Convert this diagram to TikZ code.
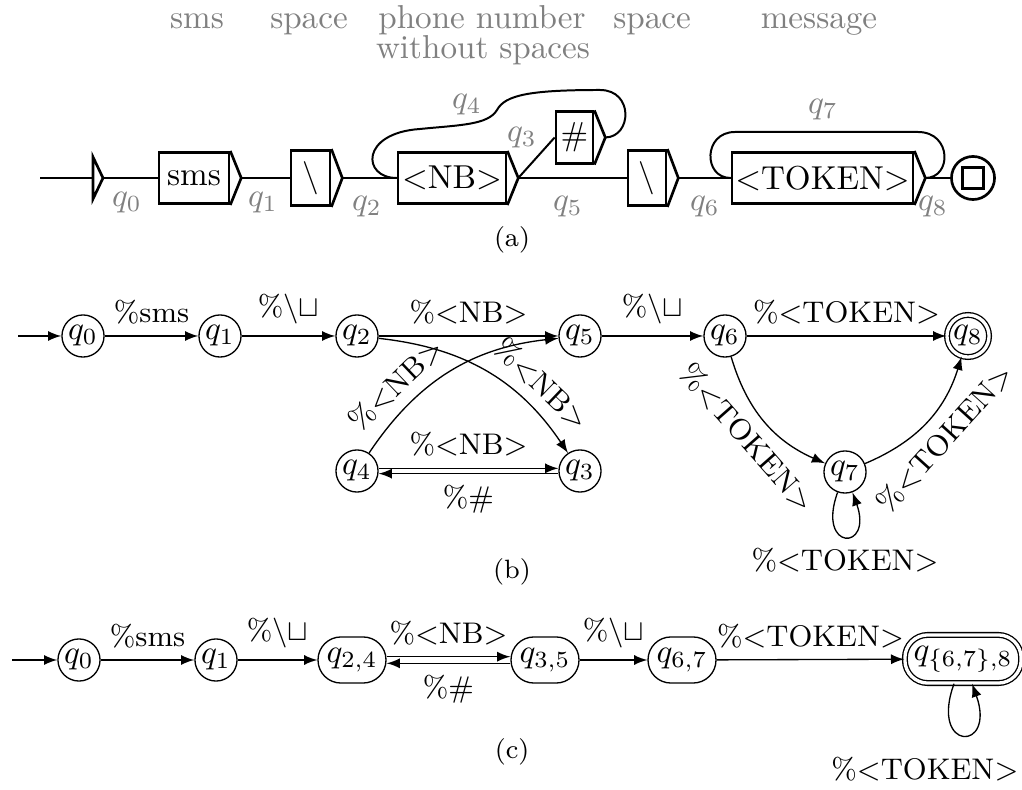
\documentclass[tikz,border=0pt]{standalone}
\usepackage{amsmath}
\usepackage{tikz}
\usetikzlibrary{positioning,arrows}
\newcommand{\boxtip}[1]{\draw[thick, fill=white] (#1.north east) -- ([xshift=3.3pt]#1.east) coordinate (#1-tip) -- (#1.south east);}
\newcommand{\tok}[1]{\%{<}\mathrm{#1}{>}}

\begin{document}
\begin{tikzpicture}[x=0.0106cm, y=-0.0106cm,
    boxstate/.style={rectangle, draw, thick, fill=white, minimum height=15.5pt, inner xsep=1pt},
    glabel/.style={text=black!50},
    qnode/.style={circle, draw, minimum size=12.7pt, inner sep=0.5pt},
    qmerged/.style={rectangle, draw, rounded corners=6.9pt, minimum height=13.9pt, inner xsep=2.6pt},
    qfinal/.style={double, double distance=1pt},
    trans/.style={->, >=latex},
    tlabel/.style={font=\small},
    selfloop/.style={loop, out=-110, in=-70}
    ]
    \useasboundingbox (0,0) rectangle (1022,790);

    %Headings
    \node[glabel, anchor=base] (hsms)  at (197,29) {sms};
    \node[glabel, anchor=base] (hsp1)  at (309,29) {space};
    \node[glabel, anchor=base] (hnum)  at (482,29) {phone number};
    \node[glabel, anchor=base] (hnum2) at (483,59) {without spaces};
    \node[glabel, anchor=base] (hsp2)  at (652,29) {space};
    \node[glabel, anchor=base] (hmsg)  at (819,29) {message};

    %(a) Boxes
    \coordinate (a-start) at (40,178);
    \coordinate (a-init)  at (93,178);
    \node[boxstate, minimum width=21.1pt] (a-sms)  at (194,178)   {sms};
    \node[boxstate, minimum width=11.8pt] (a-sp1)  at (310.5,178) {$\backslash$};
    \node[boxstate, minimum width=32.6pt] (a-nb)   at (452,178)   {<NB>};
    \node[boxstate, minimum width=11.2pt] (a-hash) at (574.5,137.5) {\#};
    \node[boxstate, minimum width=11.5pt] (a-sp2)  at (647,178)   {$\backslash$};
    \node[boxstate, minimum width=52.8pt] (a-tok)  at (822.5,178) {<TOKEN>};
    \node[circle, draw, thick, minimum size=13pt, inner sep=0pt] (a-fin) at (973,178) {};
    \node[rectangle, draw, thick, minimum size=6.4pt, inner sep=0pt] (a-finsq) at (a-fin) {};
    \boxtip{a-sms}
    \boxtip{a-sp1}
    \boxtip{a-nb}
    \boxtip{a-hash}
    \boxtip{a-sp2}
    \boxtip{a-tok}

    %(a) Lines
    \draw[semithick] (a-start) -- (a-init);
    \draw[thick] (a-init) ++(0,-21) -- ++(10,21) coordinate (a-init-tip) -- ++(-10,21) -- cycle;
    \draw[semithick] (a-init-tip) -- (a-sms.west);
    \draw[semithick] (a-sms-tip) -- (a-sp1.west);
    \draw[semithick] (a-sp1-tip) -- (a-nb.west);
    \draw[semithick] (a-nb-tip) -- (a-hash.west);
    \draw[semithick] (a-nb-tip) -- (a-sp2.west);
    \draw[semithick] (a-sp2-tip) -- (a-tok.west);
    \draw[semithick] (a-tok-tip) -- (a-fin.west);
    \draw[semithick] (a-hash-tip) .. controls (632,137) and (634,90) .. (600,90)
        .. controls (530,90) and (505,95) .. (497,110)
        .. controls (488,125) and (460,125) .. (420,129)
        .. controls (360,133) and (362,178) .. (a-nb.west);
    \draw[semithick] (a-tok.west) .. controls (703,178) and (703,132) .. (735,132)
        -- (918,132) .. controls (952,132) and (952,178) .. (a-tok-tip);

    %(a) State labels
    \node[glabel] (lq0) at (127,203) {$q_0$};
    \node[glabel] (lq1) at (263,203) {$q_1$};
    \node[glabel] (lq2) at (367,207) {$q_2$};
    \node[glabel] (lq3) at (522,138) {$q_3$};
    \node[glabel] (lq4) at (467,105) {$q_4$};
    \node[glabel] (lq5) at (568,207) {$q_5$};
    \node[glabel] (lq6) at (705,207) {$q_6$};
    \node[glabel] (lq7) at (823,110) {$q_7$};
    \node[glabel] (lq8) at (933,207) {$q_8$};
    \node[font=\footnotesize] (capa) at (512,240) {(a)};

    %(b) Nodes
    \coordinate (b-start) at (18,336);
    \node[qnode] (b0) at (83,336)  {$q_0$};
    \node[qnode] (b1) at (220,336) {$q_1$};
    \node[qnode] (b2) at (357,336) {$q_2$};
    \node[qnode] (b5) at (580,336) {$q_5$};
    \node[qnode] (b6) at (725,336) {$q_6$};
    \node[qnode, qfinal] (b8) at (968,336) {$q_8$};
    \node[qnode] (b4) at (357,471) {$q_4$};
    \node[qnode] (b3) at (580,471) {$q_3$};
    \node[qnode] (b7) at (845,472) {$q_7$};

    %(b) Lines
    \draw[trans] (b-start) -- (b0);
    \draw[trans] (b0) -- node[above, tlabel] {\%sms} (b1);
    \draw[trans] (b1) -- node[above, tlabel] {$\%\backslash\sqcup$} (b2);
    \draw[trans] (b2) -- node[above, tlabel] {$\tok{NB}$} (b5);
    \draw[trans] (b5) -- node[above, tlabel] {$\%\backslash\sqcup$} (b6);
    \draw[trans] (b6) -- node[above, tlabel] {$\tok{TOKEN}$} (b8);
    \draw[trans] (b2) to[bend left=25] node[pos=0.72, sloped, above, tlabel] {$\tok{NB}$} (b3);
    \draw[trans] (b4) to[bend left=25] node[pos=0.28, sloped, above, tlabel] {$\tok{NB}$} (b5);
    \draw[trans] ([yshift=0.8pt]b4.east) -- node[above, tlabel] {$\tok{NB}$} ([yshift=0.8pt]b3.west);
    \draw[trans] ([yshift=-0.8pt]b3.west) -- node[below, tlabel] {$\%\#$} ([yshift=-0.8pt]b4.east);
    \draw[trans] (b6) to[bend right=25] node[sloped, below, tlabel] {$\tok{TOKEN}$} (b7);
    \draw[trans] (b7) to[bend right=25] node[sloped, below, tlabel] {$\tok{TOKEN}$} (b8);
    \draw[trans] (b7) edge[selfloop, min distance=19pt] node[below, tlabel] {$\tok{TOKEN}$} (b7);
    \node[font=\footnotesize] (capb) at (512,572) {(b)};

    %(c) Nodes
    \coordinate (c-start) at (12,660);
    \node[qnode] (c0) at (79,660)  {$q_0$};
    \node[qnode] (c1) at (216,660) {$q_1$};
    \node[qmerged] (c24) at (352,660) {$q_{2,4}$};
    \node[qmerged] (c35) at (545,660) {$q_{3,5}$};
    \node[qmerged] (c67) at (682,660) {$q_{6,7}$};
    \node[qmerged, qfinal] (c8) at (963,659) {$q_{\{6,7\},8}$};

    %(c) Lines
    \draw[trans] (c-start) -- (c0);
    \draw[trans] (c0) -- node[above, tlabel] {\%sms} (c1);
    \draw[trans] (c1) -- node[above, tlabel] {$\%\backslash\sqcup$} (c24);
    \draw[trans] ([yshift=1pt]c24.east) -- node[above, tlabel] {$\tok{NB}$} ([yshift=1pt]c35.west);
    \draw[trans] ([yshift=-1pt]c35.west) -- node[below, tlabel] {$\%\#$} ([yshift=-1pt]c24.east);
    \draw[trans] (c35) -- node[above, tlabel] {$\%\backslash\sqcup$} (c67);
    \draw[trans] (c67) -- node[above, tlabel] {$\tok{TOKEN}$} (c8);
    \draw[trans] (c8) edge[selfloop, min distance=22pt] node[below=3pt, xshift=-11.5pt, tlabel] {$\tok{TOKEN}$} (c8);
    \node[font=\footnotesize] (capc) at (512,752) {(c)};
\end{tikzpicture}
\end{document}
